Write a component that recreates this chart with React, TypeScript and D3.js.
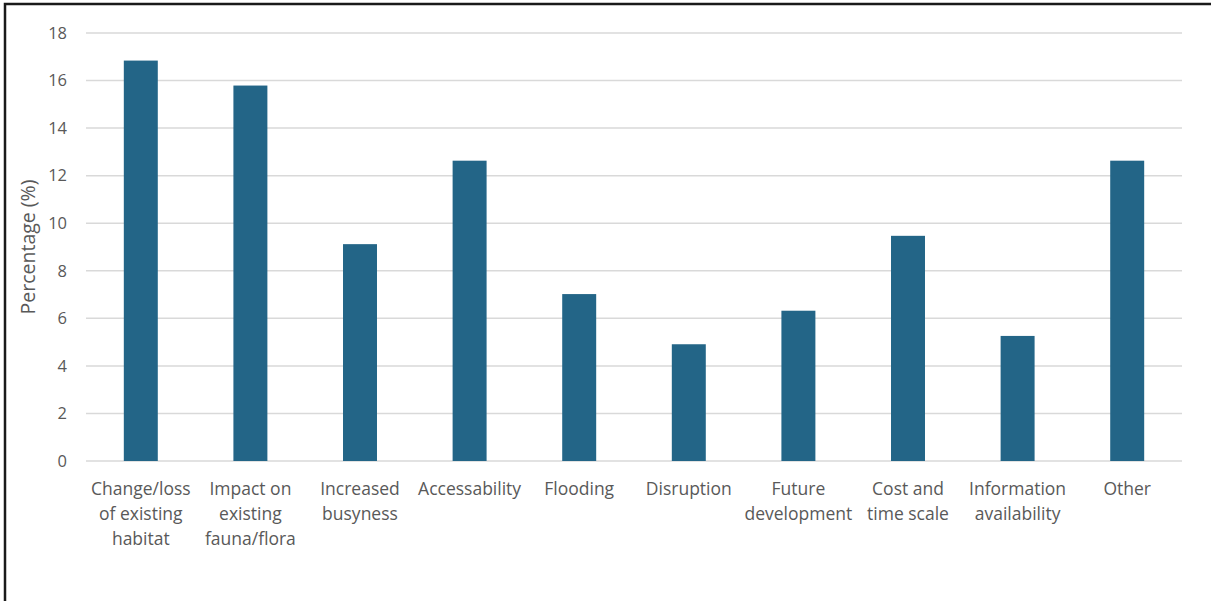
import React, { useEffect, useRef } from "react";
import * as d3 from "d3";

const categories = [
  ["Change/loss", "of existing", "habitat"],
  ["Impact on", "existing", "fauna/flora"],
  ["Increased", "busyness"],
  ["Accessability"],
  ["Flooding"],
  ["Disruption"],
  ["Future", "development"],
  ["Cost and", "time scale"],
  ["Information", "availability"],
  ["Other"],
];
const values = [16.84, 15.79, 9.12, 12.63, 7.02, 4.91, 6.32, 9.47, 5.26, 12.63];
const yTicks = [0, 2, 4, 6, 8, 10, 12, 14, 16, 18];
const yLabel = "Percentage (%)";

const W = 1211;
const H = 601;
const M = { left: 86, right: 29, top: 33, bottom: 140 };
const FONT = "'Open Sans', 'Noto Sans', sans-serif";
const TEXT = "#595959";

export default function App() {
  const ref = useRef<SVGSVGElement>(null);
  useEffect(() => {
    const svg = d3.select(ref.current);
    svg.selectAll("*").remove();
    svg.append("rect").attr("width", W).attr("height", H).attr("fill", "#fff");
    svg
      .append("rect")
      .attr("x", 5)
      .attr("y", 4)
      .attr("width", W + 20)
      .attr("height", H + 20)
      .attr("fill", "none")
      .attr("stroke", "#1a1a1a")
      .attr("stroke-width", 2.5);

    const x = d3
      .scaleBand<number>()
      .domain(values.map((_, i) => i))
      .range([M.left, W - M.right])
      .paddingInner(0.69)
      .paddingOuter(0.345);
    const y = d3.scaleLinear().domain([0, 18]).range([H - M.bottom, M.top]);

    const g = svg.append("g");
    g.selectAll("line.grid")
      .data(yTicks)
      .join("line")
      .attr("x1", M.left)
      .attr("x2", W - M.right)
      .attr("y1", (d) => y(d))
      .attr("y2", (d) => y(d))
      .attr("stroke", "#d9d9d9")
      .attr("stroke-width", 1.5);

    g.selectAll("text.tick")
      .data(yTicks)
      .join("text")
      .attr("x", 67)
      .attr("y", (d) => y(d))
      .attr("dy", "0.35em")
      .attr("text-anchor", "end")
      .attr("font-family", FONT)
      .attr("font-size", 16.5)
      .attr("fill", TEXT)
      .text((d) => d);

    g.selectAll("rect.bar")
      .data(values)
      .join("rect")
      .attr("x", (_, i) => x(i)!)
      .attr("width", x.bandwidth())
      .attr("y", (d) => y(d))
      .attr("height", (d) => y(0) - y(d))
      .attr("fill", "#236587");

    const labels = g
      .selectAll("text.cat")
      .data(categories)
      .join("text")
      .attr("text-anchor", "middle")
      .attr("font-family", FONT)
      .attr("font-size", 17.5)
      .attr("fill", TEXT);
    labels.each(function (lines, i) {
      const t = d3.select(this);
      lines.forEach((ln, j) => {
        t.append("tspan")
          .attr("x", x(i)! + x.bandwidth() / 2)
          .attr("y", y(0) + 34 + j * 25)
          .text(ln);
      });
    });

    svg
      .append("text")
      .attr("transform", `translate(35, ${(y(0) + y(18)) / 2}) rotate(-90)`)
      .attr("text-anchor", "middle")
      .attr("font-family", FONT)
      .attr("font-size", 19.5)
      .attr("fill", TEXT)
      .text(yLabel);
  }, []);
  return (
    <svg
      ref={ref}
      width={W}
      height={H}
      style={{ position: "absolute", left: 0, top: 0 }}
    />
  );
}
